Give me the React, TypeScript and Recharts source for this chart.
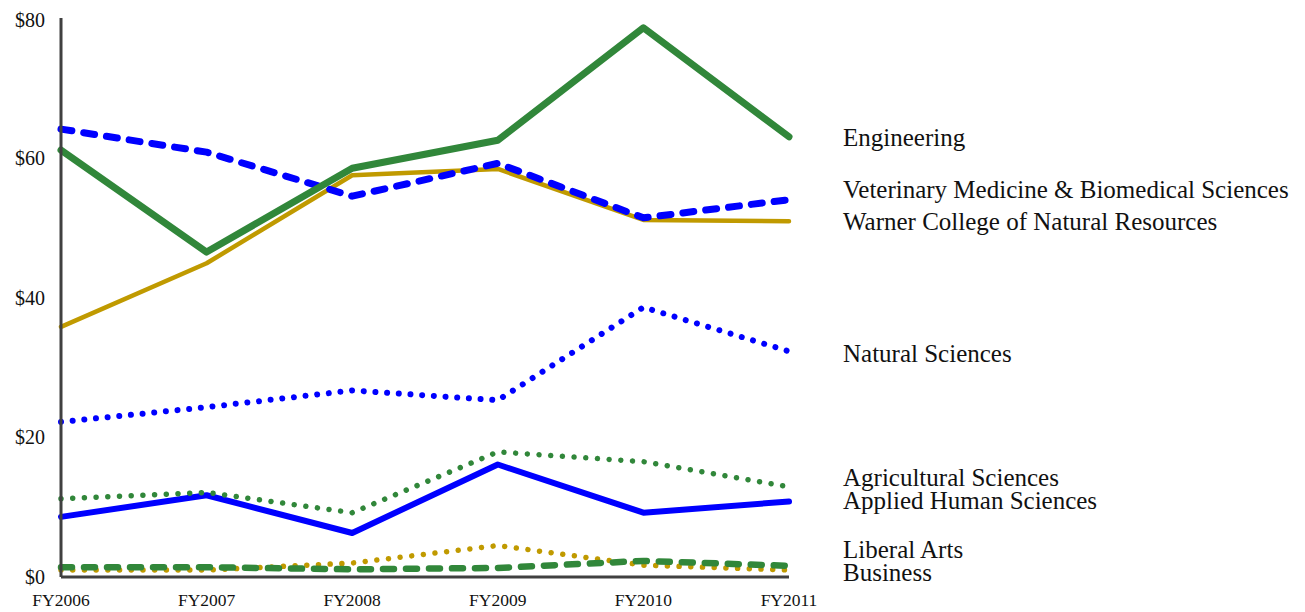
import React from 'react';
import { LineChart, Line, XAxis, YAxis, LabelList } from 'recharts';

const years = ['FY2006', 'FY2007', 'FY2008', 'FY2009', 'FY2010', 'FY2011'];
const yTicks = [0, 20, 40, 60, 80];

const engineering = [61.1, 46.5, 58.5, 62.5, 78.6, 63.0];
const vetMed = [64.1, 60.8, 54.5, 59.2, 51.4, 54.0];
const warner = [35.8, 44.9, 57.5, 58.4, 51.1, 50.9];
const naturalSciences = [22.2, 24.3, 26.7, 25.3, 38.6, 32.3];
const agSciences = [11.2, 12.1, 9.2, 17.9, 16.5, 12.9];
const appliedHuman = [8.6, 11.7, 6.3, 16.1, 9.2, 10.8];
const liberalArts = [1.0, 1.0, 2.0, 4.5, 1.7, 1.0];
const business = [1.4, 1.4, 1.1, 1.3, 2.3, 1.6];

const GREEN = '#31873A';
const BLUE = '#0000FF';
const GOLD = '#C09A00';
const FONT = '"Liberation Serif", "Times New Roman", serif';

const data = years.map((year, i) => ({
  year,
  engineering: engineering[i],
  vetMed: vetMed[i],
  warner: warner[i],
  naturalSciences: naturalSciences[i],
  agSciences: agSciences[i],
  appliedHuman: appliedHuman[i],
  liberalArts: liberalArts[i],
  business: business[i],
}));

const series = [
  { key: 'liberalArts', name: 'Liberal Arts', color: GOLD, width: 5.5, dash: '0.01 11.7', labelDy: -21 },
  { key: 'business', name: 'Business', color: GREEN, width: 6.5, dash: '11 12', labelDy: 6 },
  { key: 'naturalSciences', name: 'Natural Sciences', color: BLUE, width: 6, dash: '0.01 11.7', labelDy: 2 },
  { key: 'appliedHuman', name: 'Applied Human Sciences', color: BLUE, width: 6, dash: undefined, labelDy: -1 },
  { key: 'agSciences', name: 'Agricultural Sciences', color: GREEN, width: 5.5, dash: '0.01 11.7', labelDy: -10 },
  { key: 'warner', name: 'Warner College of Natural Resources', color: GOLD, width: 4.5, dash: undefined, labelDy: 0 },
  { key: 'vetMed', name: 'Veterinary Medicine & Biomedical Sciences', color: BLUE, width: 7, dash: '11 12', labelDy: -10 },
  { key: 'engineering', name: 'Engineering', color: GREEN, width: 7, dash: undefined, labelDy: 0 },
];

const makeLabel = (name: string, dy: number) => (props: any) => {
  const { x, y, index } = props;
  if (index !== years.length - 1) return null;
  return (
    <text
      x={x + 54}
      y={y + dy}
      dy="0.35em"
      fill="#111"
      fontSize={25}
      fontFamily={FONT}
      textAnchor="start"
    >
      {name}
    </text>
  );
};

export default function App() {
  return (
    <div style={{ width: 1289, height: 604, background: '#fff' }}>
      <LineChart
        width={1289}
        height={604}
        data={data}
        margin={{ top: 10, right: 508, left: 0, bottom: 0 }}
      >
        <XAxis
          dataKey="year"
          height={35}
          tickLine={false}
          tickSize={0}
          tickMargin={17}
          interval={0}
          axisLine={{ stroke: '#404040', strokeWidth: 3 }}
          tick={{ fill: '#111', fontSize: 17.5, fontFamily: FONT }}
          padding={{ left: 0, right: 0 }}
        />
        <YAxis
          width={53}
          domain={[0, 80]}
          ticks={yTicks}
          tickLine={false}
          tickSize={0}
          tickMargin={16}
          axisLine={{ stroke: '#404040', strokeWidth: 3 }}
          tick={{ fill: '#111', fontSize: 20, fontFamily: FONT }}
          tickFormatter={(v: number) => `$${v}`}
        />
        {series.map((s) => (
          <Line
            key={s.key}
            type="linear"
            dataKey={s.key}
            name={s.name}
            stroke={s.color}
            strokeWidth={s.width}
            strokeDasharray={s.dash}
            strokeLinecap="round"
            strokeLinejoin="round"
            dot={false}
            activeDot={false}
            isAnimationActive={false}
          >
            <LabelList dataKey={s.key} content={makeLabel(s.name, s.labelDy)} />
          </Line>
        ))}
      </LineChart>
    </div>
  );
}
